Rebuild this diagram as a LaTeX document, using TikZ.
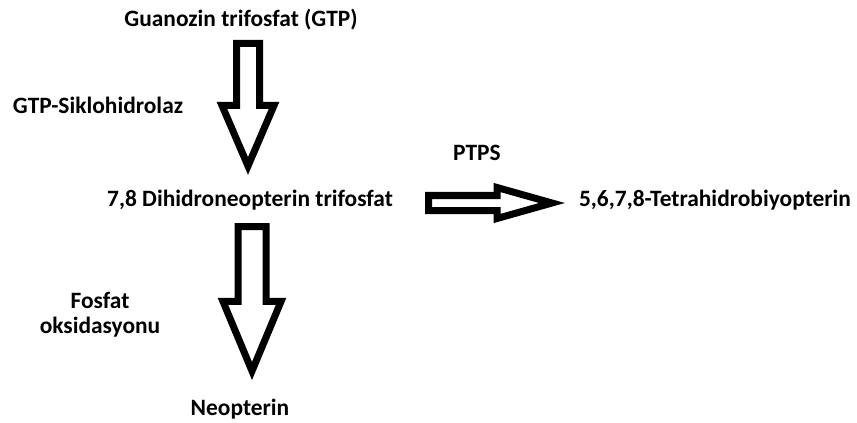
\documentclass[tikz,border=0pt]{standalone}
\usepackage{fontspec}
\setmainfont{Carlito}
\usepackage{tikz}
\usetikzlibrary{calc}

% hollow block arrow from #1 to #2: shaft half width, head half width, head length
\newcommand{\fatarrow}[5]{%
  \coordinate (fab) at ($(#2)!#5!(#1)$);
  \draw[fat] ($(#1)!#3!90:(#2)$) -- ($(fab)!#3!90:(#2)$) -- ($(fab)!#4!90:(#2)$)
    -- (#2) -- ($(fab)!#4!-90:(#2)$) -- ($(fab)!#3!-90:(#2)$) -- ($(#1)!#3!-90:(#2)$) -- cycle;
}

\begin{document}
\begin{tikzpicture}[
  x=0.03cm, y=-0.03cm,
  lbl/.style={font=\fontsize{20}{21.3}\selectfont\bfseries, anchor=base, inner sep=0pt, align=center},
  fat/.style={draw, line width=0.21cm, fill=white}
]
\useasboundingbox[fill=white] (0,0) rectangle (857,423);

\node[lbl] (gtp) at (241,27) {Guanozin trifosfat (GTP)};
\node[lbl] (gch) at (98,113) {GTP-Siklohidrolaz};
\node[lbl] (dhnp) at (250,206) {7,8 Dihidroneopterin trifosfat};
\node[lbl] (ptps) at (477,160) {PTPS};
\node[lbl] (bh4) at (715,206) {5,6,7,8-Tetrahidrobiyopterin};
\node[lbl] (fox) at (100,333) {Fosfat\\oksidasyonu};
\node[lbl] (neo) at (240,415) {Neopterin};

% arrow ends
\coordinate (a1s) at (248,43.5);
\coordinate (a1e) at (248,166);
\coordinate (a2s) at (252,226.5);
\coordinate (a2e) at (252,371);
\coordinate (a3s) at (428.5,203);
\coordinate (a3e) at (552,203);

\fatarrow{a1s}{a1e}{0.345cm}{0.78cm}{1.815cm}
\fatarrow{a2s}{a2e}{0.42cm}{0.87cm}{2.085cm}
\fatarrow{a3s}{a3e}{0.225cm}{0.465cm}{1.65cm}

\end{tikzpicture}
\end{document}
